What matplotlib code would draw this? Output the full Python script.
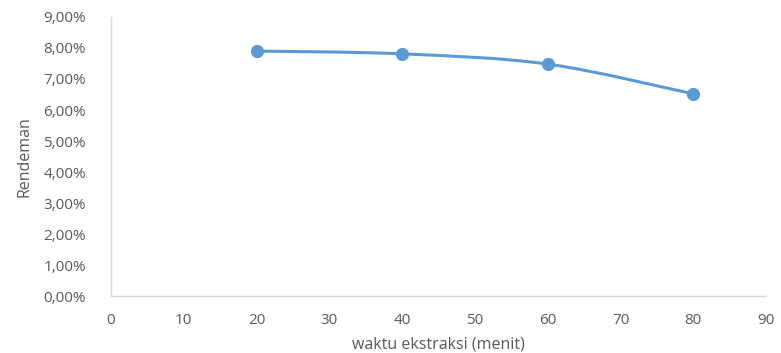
import matplotlib.pyplot as plt
import numpy as np
from matplotlib.path import Path
from matplotlib.patches import PathPatch
from matplotlib.ticker import FuncFormatter

# data
waktu = [20, 40, 60, 80]
rendeman = [7.90, 7.81, 7.48, 6.52]  # percent

plt.rcParams['font.family'] = ['Open Sans', 'DejaVu Sans']

fig = plt.figure(figsize=(7.81, 3.53), dpi=100)
ax = fig.add_axes([0.142, 0.161, 0.839, 0.791])

# Excel-like smooth line: cardinal spline as cubic bezier segments
x = np.array(waktu, dtype=float)
y = np.array(rendeman, dtype=float)
verts = [(x[0], y[0])]
codes = [Path.MOVETO]
t = 1 / 6
for i in range(len(x) - 1):
    x0, y0 = (x[i - 1], y[i - 1]) if i > 0 else (x[i], y[i])
    x3, y3 = (x[i + 2], y[i + 2]) if i + 2 < len(x) else (x[i + 1], y[i + 1])
    c1 = (x[i] + (x[i + 1] - x0) * t, y[i] + (y[i + 1] - y0) * t)
    c2 = (x[i + 1] - (x3 - x[i]) * t, y[i + 1] - (y3 - y[i]) * t)
    verts += [c1, c2, (x[i + 1], y[i + 1])]
    codes += [Path.CURVE4] * 3
ax.add_patch(PathPatch(Path(verts, codes), facecolor='none',
                       edgecolor='#5b9bd5', lw=2.2, zorder=2))
ax.plot(waktu, rendeman, 'o', color='#5b9bd5', ms=8.5, zorder=3)

ax.set_xlim(0, 90)
ax.set_ylim(0, 9)
ax.set_xticks(range(0, 91, 10))
ax.set_yticks(range(0, 10))
ax.yaxis.set_major_formatter(FuncFormatter(lambda v, p: f"{v:.2f}".replace('.', ',') + '%'))

for s in ['top', 'right']:
    ax.spines[s].set_visible(False)
for s in ['left', 'bottom']:
    ax.spines[s].set_color('#d9d9d9')
    ax.spines[s].set_linewidth(1)
ax.tick_params(length=0, labelsize=11, colors='#595959', pad=12)
ax.tick_params(axis='y', pad=18)

ax.set_xlabel('waktu ekstraksi (menit)', fontsize=11.5, color='#595959', labelpad=6)
ax.set_ylabel('Rendeman', fontsize=11.5, color='#595959', labelpad=8)

fig.savefig('out.png', dpi=100)
